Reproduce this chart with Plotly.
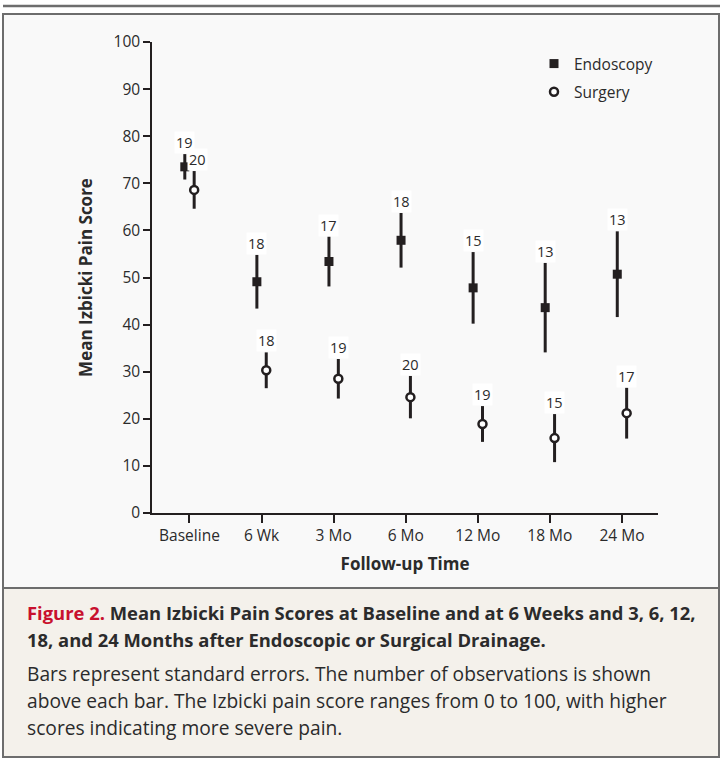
import plotly.graph_objects as go

# ---------------- data ----------------
categories = ["Baseline", "6 Wk", "3 Mo", "6 Mo", "12 Mo", "18 Mo", "24 Mo"]
endo_mean = [73.5, 49.1, 53.4, 57.9, 47.8, 43.6, 50.7]
endo_se = [2.7, 5.7, 5.3, 5.8, 7.6, 9.5, 9.1]
endo_n = [19, 18, 17, 18, 15, 13, 13]
surg_mean = [68.6, 30.3, 28.5, 24.6, 18.9, 15.9, 21.2]
surg_se = [4.0, 3.8, 4.2, 4.5, 3.8, 5.1, 5.4]
surg_n = [20, 18, 19, 20, 19, 15, 17]
y_ticks = [0, 10, 20, 30, 40, 50, 60, 70, 80, 90, 100]

# ---------------- layout geometry (pixels) ----------------
W, H = 722, 758
L, R, T, B = 152, 64, 42, 245
PW, PH = W - L - R, H - T - B

def px(x):
    return (x - L) / PW

def py(y):
    return (H - B - y) / PH

INK = "#231f20"
TXT = "#2b2b2b"
FONT = "Open Sans"
OFF = 0.065

xi = list(range(len(categories)))
x_endo = [i - OFF for i in xi]
x_surg = [i + OFF for i in xi]

fig = go.Figure()
fig.add_trace(go.Scatter(
    x=x_endo, y=endo_mean, mode="markers", name="Endoscopy",
    marker=dict(symbol="square", size=9, color=INK, line=dict(width=0)),
    error_y=dict(type="data", array=endo_se, visible=True, color=INK, thickness=3, width=0),
    legendgroup="a",
))
fig.add_trace(go.Scatter(
    x=x_surg, y=surg_mean, mode="markers", name="Surgery",
    marker=dict(symbol="circle", size=8, color="white", line=dict(width=2.5, color=INK)),
    error_y=dict(type="data", array=surg_se, visible=True, color=INK, thickness=3, width=0),
    legendgroup="b",
))

annotations = []
for i in xi:
    annotations.append(dict(
        x=x_endo[i], y=endo_mean[i] + endo_se[i], xref="x", yref="y",
        text=str(endo_n[i]), showarrow=False, yanchor="bottom", xanchor="center",
        yshift=0, bgcolor="white", borderpad=1,
        font=dict(family=FONT, size=14.5, color=TXT),
    ))
    annotations.append(dict(
        x=x_surg[i], y=surg_mean[i] + surg_se[i], xref="x", yref="y",
        text=str(surg_n[i]), showarrow=False, yanchor="bottom", xanchor="center",
        yshift=0, xshift=3 if i == 0 else 0, bgcolor="white", borderpad=1,
        font=dict(family=FONT, size=14.5, color=TXT),
    ))

# caption lines
bold_lines = [
    ("<span style='color:#c8102e'><b>Figure 2.</b></span><b> Mean Izbicki Pain Scores at Baseline and at 6 Weeks and 3, 6, 12,</b>", 612),
    ("<b>18, and 24 Months after Endoscopic or Surgical Drainage.</b>", 639),
]
body_lines = [
    ("Bars represent standard errors. The number of observations is shown", 673),
    ("above each bar. The Izbicki pain score ranges from 0 to 100, with higher", 700),
    ("scores indicating more severe pain.", 727),
]
for lines, size in ((bold_lines, 18.4), (body_lines, 19.2)):
    for txt, yy in lines:
        annotations.append(dict(
            x=px(25), y=py(yy), xref="paper", yref="paper", text=txt,
            showarrow=False, xanchor="left", yanchor="middle", align="left",
            font=dict(family=FONT, size=size, color=TXT),
        ))

shapes = [
    # top rule
    dict(type="line", xref="paper", yref="paper", x0=px(3), x1=px(720), y0=py(6), y1=py(6),
         line=dict(color="#6d6d6d", width=2.5), layer="below"),
    # chart panel
    dict(type="rect", xref="paper", yref="paper", x0=px(3), x1=px(719), y0=py(14), y1=py(588),
         fillcolor="#f9f9f9", line=dict(color="#6d6d6d", width=2), layer="below"),
    # caption panel
    dict(type="rect", xref="paper", yref="paper", x0=px(3), x1=px(719), y0=py(588), y1=py(757),
         fillcolor="#f4f1eb", line=dict(color="#6d6d6d", width=2), layer="below"),
]

fig.update_layout(
    width=W, height=H,
    margin=dict(l=L, r=R, t=T, b=B, pad=0),
    paper_bgcolor="white", plot_bgcolor="rgba(0,0,0,0)",
    font=dict(family=FONT, size=15, color=TXT),
    showlegend=True,
    legend=dict(
        x=px(534), y=py(47), xanchor="left", yanchor="top",
        bgcolor="rgba(0,0,0,0)", font=dict(family=FONT, size=15.5, color=TXT),
        traceorder="grouped", tracegroupgap=5, itemclick=False,
    ),
    xaxis=dict(
        range=[-0.52, 6.5], tickvals=xi, ticktext=categories,
        showline=True, linecolor=INK, linewidth=1.5, mirror=False,
        ticks="outside", ticklen=8, tickwidth=1.5, tickcolor=INK,
        showgrid=False, zeroline=False,
        tickfont=dict(family=FONT, size=15.5, color=TXT),
        title=dict(text="<b>Follow-up Time</b>", font=dict(family=FONT, size=17, color=TXT), standoff=13),
    ),
    yaxis=dict(
        range=[0, 100], tickvals=y_ticks,
        showline=True, linecolor=INK, linewidth=1.5,
        ticks="outside", ticklen=7, tickwidth=1.5, tickcolor=INK,
        showgrid=False, zeroline=False,
        tickfont=dict(family=FONT, size=15.5, color=TXT),
        title=dict(text="<b>Mean Izbicki Pain Score</b>", font=dict(family=FONT, size=17, color=TXT), standoff=17),
    ),
    annotations=annotations,
    shapes=shapes,
)

fig.write_html("out.html", config={"displayModeBar": False},
               post_script="document.body.style.margin='0';")
